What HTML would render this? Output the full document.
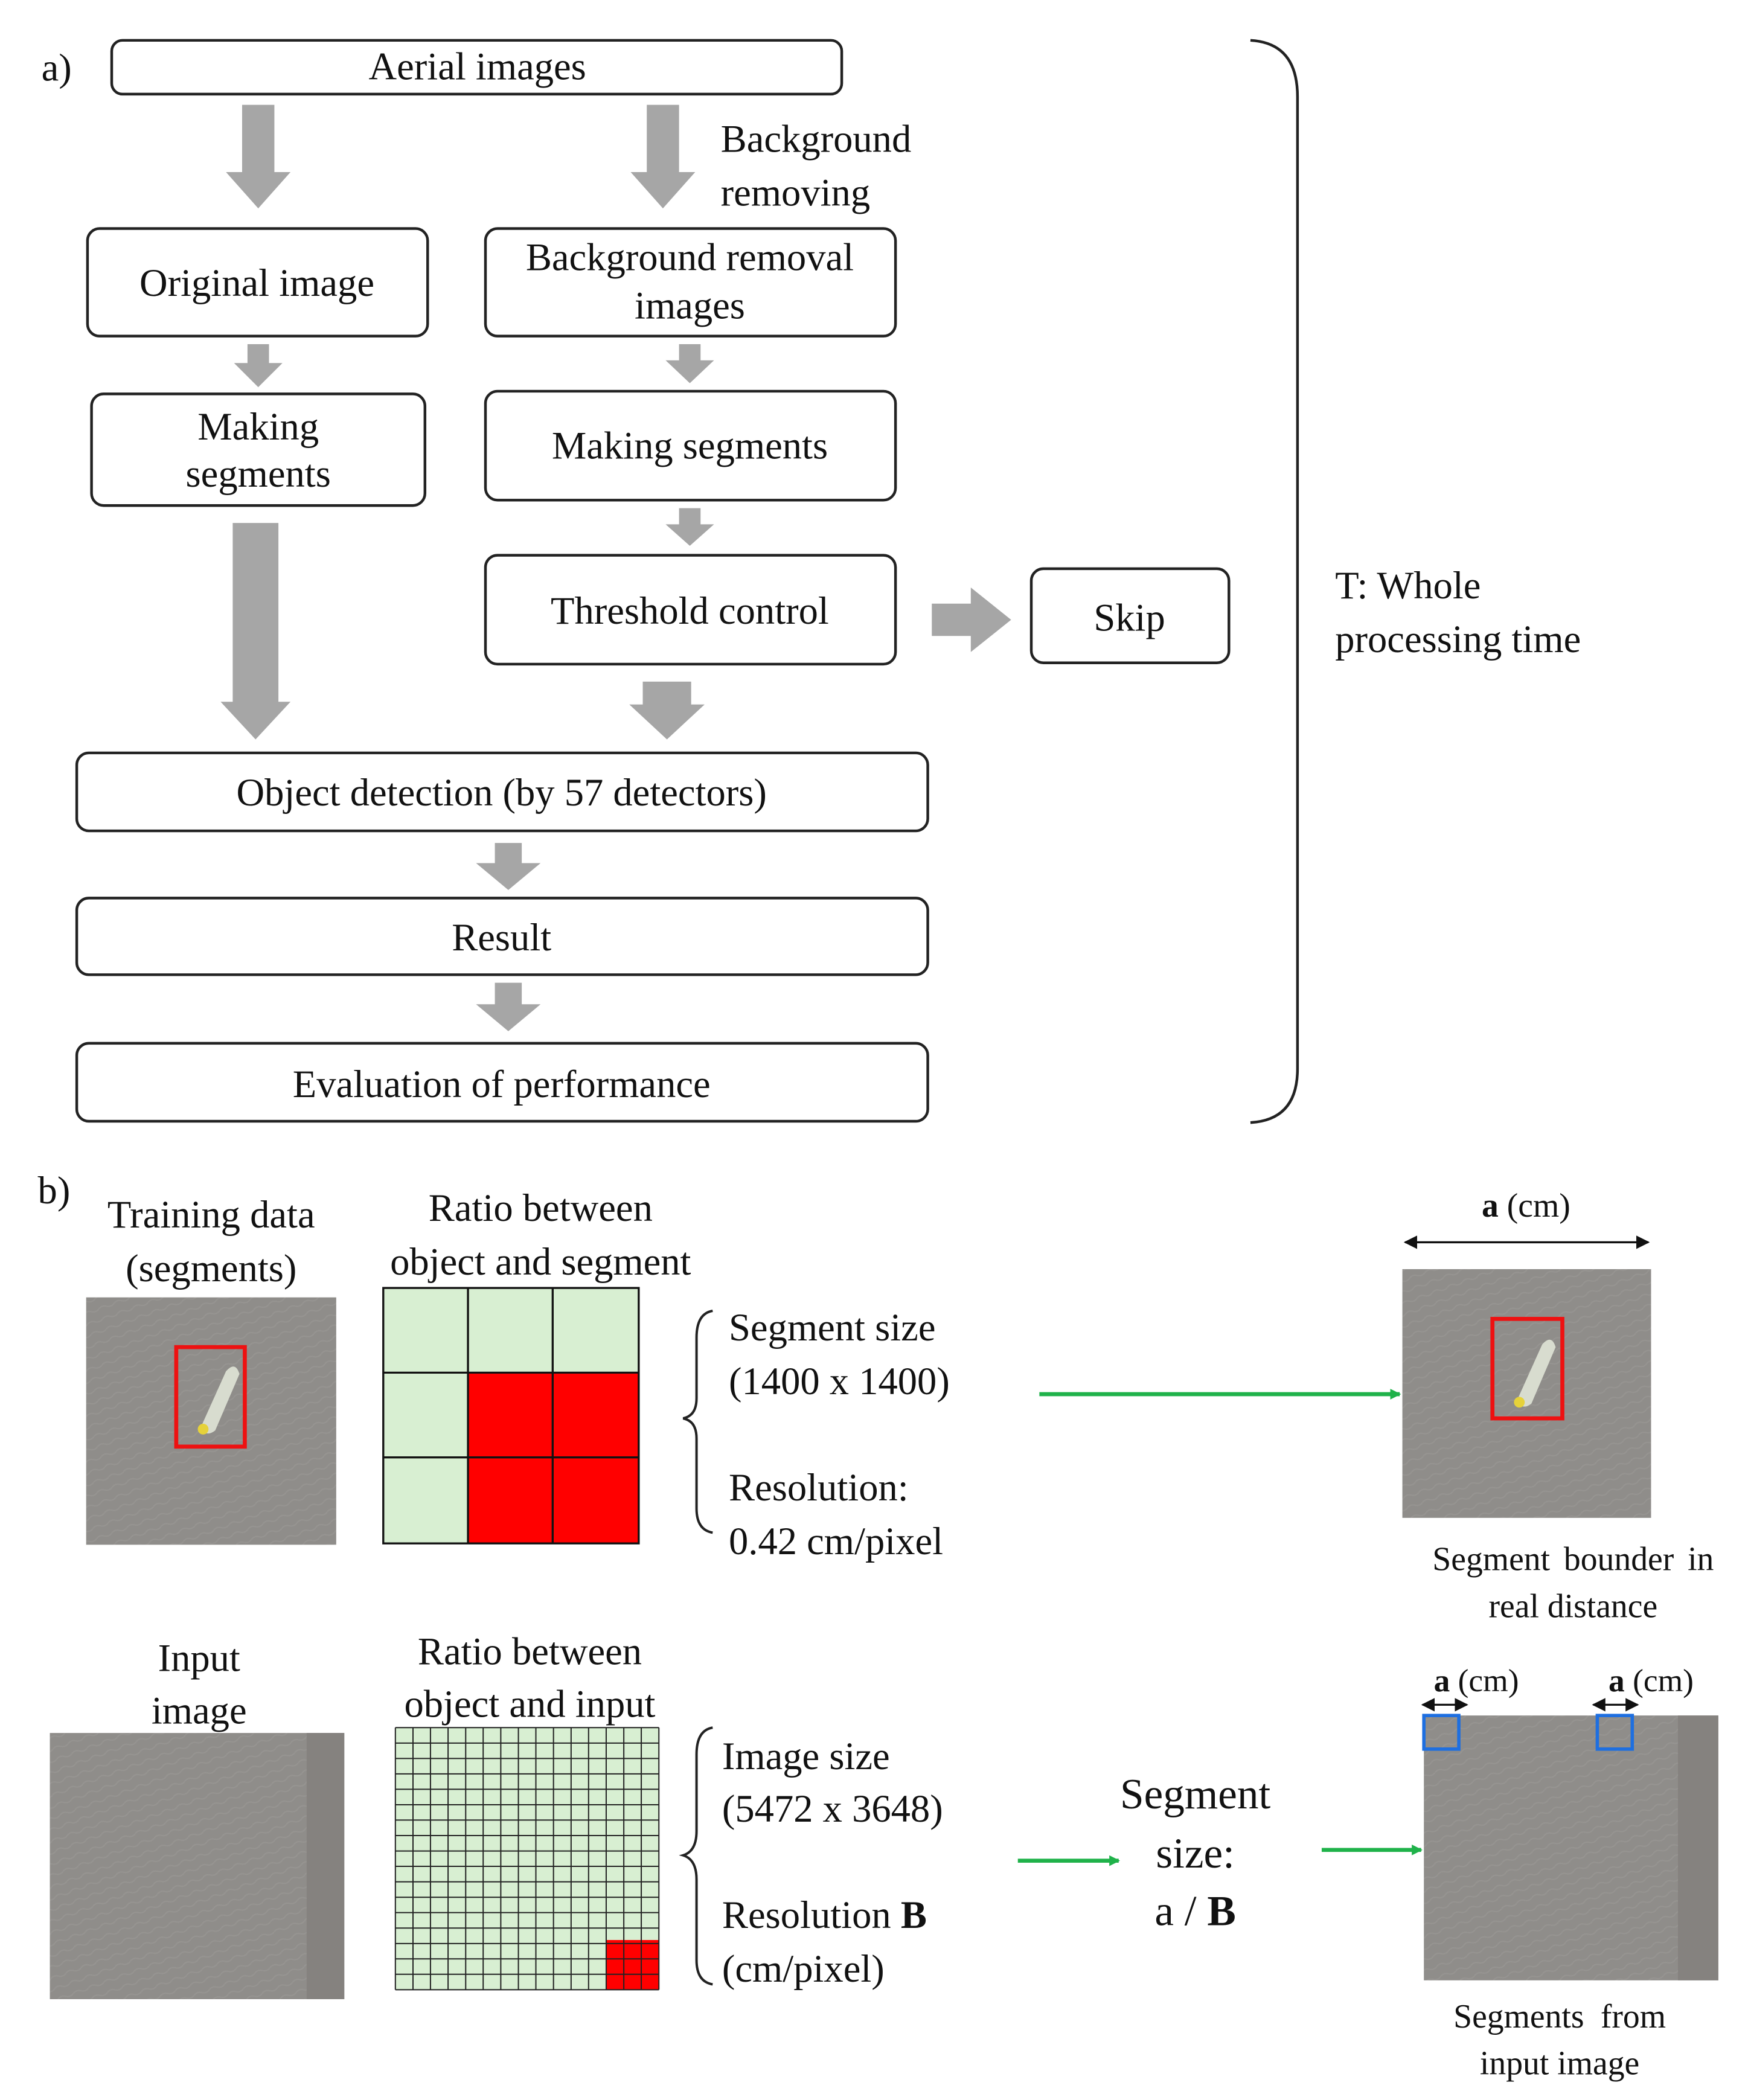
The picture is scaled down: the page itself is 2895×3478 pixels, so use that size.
<!DOCTYPE html>
<html><head><meta charset="utf-8"><style>
html,body{margin:0;padding:0;background:#fff}
svg{display:block}
svg text{font-family:"Liberation Serif","Times New Roman",Times,serif;fill:#111}
</style></head><body>
<svg width="2895" height="3478" viewBox="0 0 1300 1562" xmlns="http://www.w3.org/2000/svg" font-family="Liberation Serif, Times New Roman, serif">
<defs>
<marker id="gh" markerWidth="8" markerHeight="8" refX="7" refY="4" orient="auto" markerUnits="userSpaceOnUse"><path d="M0,0 L8,4 L0,8z" fill="#1fb24a"/></marker>
<marker id="bh" markerWidth="10" markerHeight="10" refX="9" refY="5" orient="auto" markerUnits="userSpaceOnUse"><path d="M0,0 L10,5 L0,10z" fill="#111"/></marker>
<marker id="bt" markerWidth="10" markerHeight="10" refX="1" refY="5" orient="auto" markerUnits="userSpaceOnUse"><path d="M10,0 L0,5 L10,10z" fill="#111"/></marker>
<pattern id="sand" width="12" height="8" patternUnits="userSpaceOnUse" patternTransform="rotate(-20)"><rect width="12" height="8" fill="#8f8d8a"/><path d="M0,4 Q3,2 6,4 T12,4" stroke="#969491" stroke-width="1" fill="none"/></pattern>
</defs>
<g fill="none" stroke="#222" stroke-width="2">
<rect x="83" y="30" width="543" height="40" rx="8"/>
<rect x="65" y="170" width="253" height="80" rx="9"/>
<rect x="361" y="170" width="305" height="80" rx="9"/>
<rect x="68" y="293" width="248" height="83" rx="9"/>
<rect x="361" y="291" width="305" height="81" rx="9"/>
<rect x="361" y="413" width="305" height="81" rx="9"/>
<rect x="767" y="423" width="147" height="70" rx="9"/>
<rect x="57" y="560" width="633" height="58" rx="9"/>
<rect x="57" y="668" width="633" height="57" rx="9"/>
<rect x="57" y="776" width="633" height="58" rx="9"/>
<path d="M930,30 Q965,32 965,72 L965,795 Q965,833 930,835"/>
</g>
<g fill="#a6a6a6">
<path d="M180,78 H204 V128 H216 L192,155 L168,128 H180Z"/>
<path d="M481,78 H505 V128 H517 L493,155 L469,128 H481Z"/>
<path d="M184,256 H200 V270 H210 L192,288 L174,270 H184Z"/>
<path d="M505,256 H521 V268 H531 L513,285 L495,268 H505Z"/>
<path d="M505,378 H521 V390 H531 L513,406 L495,390 H505Z"/>
<path d="M693,449 H722 V437 L752,461 L722,485 V473 H693Z"/>
<path d="M173,389 H207 V522 H216 L190,550 L164,522 H173Z"/>
<path d="M478,507 H514 V524 H524 L496,550 L468,524 H478Z"/>
<path d="M368,627 H388 V642 H402 L378,662 L354,642 H368Z"/>
<path d="M368,731 H388 V747 H402 L378,767 L354,747 H368Z"/>
</g>
<g font-size="29" text-anchor="middle">
<text x="42" y="60">a)</text>
<text x="355" y="59">Aerial images</text>
<text x="191" y="220">Original image</text>
<text x="513" y="201">Background removal</text>
<text x="513" y="237">images</text>
<text x="192" y="327">Making</text>
<text x="192" y="362">segments</text>
<text x="513" y="341">Making segments</text>
<text x="513" y="464">Threshold control</text>
<text x="840" y="469">Skip</text>
<text x="373" y="599">Object detection (by 57 detectors)</text>
<text x="373" y="707">Result</text>
<text x="373" y="816">Evaluation of performance</text>
</g>
<g font-size="29">
<text x="536" y="113">Background</text>
<text x="536" y="153">removing</text>
<text x="993" y="445">T: Whole</text>
<text x="993" y="485">processing time</text>
<text x="28" y="895">b)</text>
<text x="542" y="997">Segment size</text>
<text x="542" y="1037">(1400 x 1400)</text>
<text x="542" y="1116">Resolution:</text>
<text x="542" y="1156">0.42 cm/pixel</text>
<text x="537" y="1316">Image size</text>
<text x="537" y="1355">(5472 x 3648)</text>
<text x="537" y="1434">Resolution <tspan font-weight="bold">B</tspan></text>
<text x="537" y="1474">(cm/pixel)</text>
</g>
<g font-size="29" text-anchor="middle">
<text x="157" y="913">Training data</text>
<text x="157" y="953">(segments)</text>
<text x="402" y="908">Ratio between</text>
<text x="402" y="948">object and segment</text>
<text x="148" y="1243">Input</text>
<text x="148" y="1282">image</text>
<text x="394" y="1238">Ratio between</text>
<text x="394" y="1277">object and input</text>
<text x="889" y="1345" font-size="32">Segment</text>
<text x="889" y="1389" font-size="32">size:</text>
<text x="889" y="1432" font-size="32">a / <tspan font-weight="bold">B</tspan></text>
<text x="1135" y="905" font-size="25"><tspan font-weight="bold">a</tspan> (cm)</text>
<text x="1098" y="1258" font-size="24"><tspan font-weight="bold">a</tspan> (cm)</text>
<text x="1228" y="1258" font-size="24"><tspan font-weight="bold">a</tspan> (cm)</text>
<text x="1170" y="1168" font-size="25" word-spacing="4">Segment bounder in</text>
<text x="1170" y="1203" font-size="25">real distance</text>
<text x="1160" y="1508" font-size="25" word-spacing="6">Segments from</text>
<text x="1160" y="1543" font-size="25">input image</text>
</g>
<!-- images -->
<rect x="64" y="965" width="186" height="184" fill="url(#sand)"/>
<path d="M150,1060 L168,1020 Q175,1012 178,1022 L160,1064 Q152,1070 150,1060Z" fill="#d8dccf"/>
<circle cx="151" cy="1063" r="4" fill="#e6d23a"/>
<rect x="131" y="1002" width="51" height="74" fill="none" stroke="#e11" stroke-width="3"/>
<rect x="1043" y="944" width="185" height="185" fill="url(#sand)"/>
<path d="M1129,1040 L1147,1000 Q1154,992 1157,1002 L1139,1044 Q1131,1050 1129,1040Z" fill="#d8dccf"/>
<circle cx="1130" cy="1043" r="4" fill="#e6d23a"/>
<rect x="1110" y="981" width="52" height="74" fill="none" stroke="#e11" stroke-width="3"/>
<rect x="37" y="1289" width="219" height="198" fill="url(#sand)"/>
<rect x="228" y="1289" width="28" height="198" fill="#85827f"/>
<rect x="1059" y="1276" width="219" height="197" fill="url(#sand)"/>
<rect x="1248" y="1276" width="30" height="197" fill="#85827f"/>
<rect x="1059" y="1276" width="26" height="25" fill="none" stroke="#1e6fe0" stroke-width="2.5"/>
<rect x="1188" y="1276" width="26" height="25" fill="none" stroke="#1e6fe0" stroke-width="2.5"/>
<!-- grid 1 -->
<rect x="285" y="958" width="190" height="190" fill="#d8efd2"/>
<rect x="348" y="1021" width="127" height="127" fill="#f00"/>
<g stroke="#111" stroke-width="1.5" fill="none">
<rect x="285" y="958" width="190" height="190"/>
<path d="M348,958V1148M411,958V1148M285,1021H475M285,1084H475"/>
</g>
<!-- grid 2 -->
<rect x="294" y="1285" width="196" height="195" fill="#d8efd2"/>
<rect x="451" y="1443" width="39" height="37" fill="#f00"/>
<g stroke="#222" stroke-width="0.9">
<path d="M294,1285V1480M307.1,1285V1480M320.1,1285V1480M333.2,1285V1480M346.3,1285V1480M359.3,1285V1480M372.4,1285V1480M385.5,1285V1480M398.5,1285V1480M411.6,1285V1480M424.7,1285V1480M437.7,1285V1480M450.8,1285V1480M463.9,1285V1480M476.9,1285V1480M490,1285V1480"/>
<path d="M294,1285H490M294,1296.5H490M294,1308H490M294,1319.4H490M294,1330.9H490M294,1342.4H490M294,1353.8H490M294,1365.3H490M294,1376.8H490M294,1388.2H490M294,1399.7H490M294,1411.2H490M294,1422.6H490M294,1434.1H490M294,1445.6H490M294,1457H490M294,1468.5H490M294,1480H490"/>
</g>
<!-- braces -->
<g fill="none" stroke="#222" stroke-width="1.8">
<path d="M530,975 Q518,977 518,995 L518,1040 Q518,1053 508,1055 Q518,1057 518,1070 L518,1122 Q518,1138 530,1140"/>
<path d="M530,1285 Q518,1287 518,1305 L518,1362 Q518,1377 508,1380 Q518,1383 518,1398 L518,1458 Q518,1474 530,1476"/>
</g>
<!-- green arrows -->
<g stroke="#1fb24a" stroke-width="3">
<line x1="773" y1="1037" x2="1041" y2="1037" marker-end="url(#gh)"/>
<line x1="757" y1="1384" x2="832" y2="1384" marker-end="url(#gh)"/>
<line x1="983" y1="1376" x2="1057" y2="1376" marker-end="url(#gh)"/>
</g>
<g stroke="#111" stroke-width="1.5">
<line x1="1045" y1="924" x2="1226" y2="924" marker-start="url(#bt)" marker-end="url(#bh)"/>
<line x1="1058" y1="1268" x2="1091" y2="1268" marker-start="url(#bt)" marker-end="url(#bh)"/>
<line x1="1185" y1="1268" x2="1218" y2="1268" marker-start="url(#bt)" marker-end="url(#bh)"/>
</g>
</svg>
</body></html>
